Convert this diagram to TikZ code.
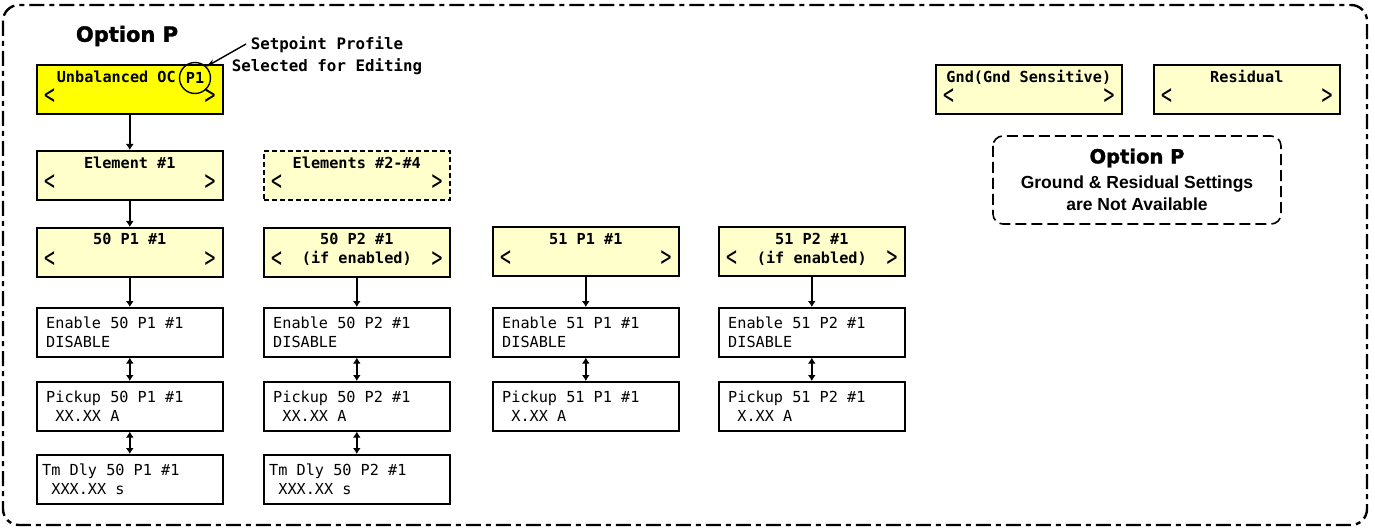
\documentclass[tikz,border=0pt]{standalone}
\usepackage{fontspec}
\usepackage{graphicx}
\setmainfont{Liberation Sans}
\newfontfamily\mono{DejaVu Sans Mono}
\newfontfamily\dvs{DejaVu Sans}[BoldFeatures={FakeBold=1.5}]
\usetikzlibrary{arrows.meta,calc}
\definecolor{ylw}{HTML}{FFFF00}
\definecolor{lylw}{HTML}{FFFFCC}
\newcommand{\brL}{\scalebox{0.95}[1.5]{<}}
\newcommand{\brR}{\scalebox{0.95}[1.5]{>}}
\tikzset{
  box/.style={draw, line width=1.6pt, rectangle, inner sep=0pt, minimum width=186pt, minimum height=49pt, anchor=north west},
  hdr/.style={font=\mono\bfseries\fontsize{15.2}{18}\selectfont, inner sep=0pt, text height=11pt, text depth=3pt},
  bodytxt/.style={font=\mono\fontsize{15.2}{19}\selectfont, inner sep=0pt, anchor=west, align=left},
  brk/.style={font=\mono\fontsize{19}{19}\selectfont, inner sep=0pt},
  conn/.style={line width=1.5pt, -{Latex[length=6pt,width=8pt]}},
  conn2/.style={line width=1.5pt, {Latex[length=6pt,width=8pt]}-{Latex[length=6pt,width=8pt]}},
  bigtitle/.style={font=\dvs\bfseries\fontsize{21}{24}\selectfont, inner sep=0pt},
}
\newcommand{\hdrbox}[5]{%
  \node[box, fill=#4] (#1) at (#2,#3) {};
  \node[brk, anchor=west] (#1-l) at ($(#1.north west)+(8,33)$) {\brL};
  \node[brk, anchor=east] (#1-r) at ($(#1.north east)+(-8,33)$) {\brR};
}
\newcommand{\valbox}[6]{%
  \node[box, fill=white] (#1) at (#2,#3) {};
  \node[bodytxt] (#1-t) at ($(#1.west)+(#6,0)$) {#4\\#5};
}
\begin{document}
\begin{tikzpicture}[x=1pt,y=-1pt]
\useasboundingbox (0,0) rectangle (1375,529);
% outer border
\draw[line width=2.4pt, rounded corners=16pt, dash pattern=on 15pt off 5pt on 5pt off 5pt] (3,5) rectangle (1367,525);

% title
\node[bigtitle] (title) at (127,36) {Option P};

% Unbalanced OC
\hdrbox{uoc}{36}{64}{ylw}{}
\node[hdr, anchor=east] (uoc-t) at (176,79) {Unbalanced OC};
\node[hdr, circle, draw, line width=1.4pt, minimum size=31pt, text height=, text depth=] (p1) at (195,78) {P1};
\node[font=\mono\bfseries\fontsize{15.8}{22}\selectfont, align=center, inner sep=0pt] (sp) at (327,56) {Setpoint Profile\\Selected for Editing};
\coordinate (spa) at (246,44);
\draw[line width=1.4pt, -{Stealth[length=9pt,width=6pt]}] (spa) -- (p1.north east);

% Element row
\hdrbox{el1}{36}{150}{lylw}{}
\node[hdr] (el1-t) at ($(el1.north)+(0,15)$) {Element \#1};
\node[box, fill=lylw, dash pattern=on 5pt off 3pt] (el2) at (263,150) {};
\node[hdr] (el2-t) at ($(el2.north)+(0,15)$) {Elements \#2-\#4};
\node[brk, anchor=west] (el2-l) at ($(el2.north west)+(8,33)$) {\brL};
\node[brk, anchor=east] (el2-r) at ($(el2.north east)+(-8,33)$) {\brR};

% header row
\hdrbox{h1}{36}{227}{lylw}{}
\node[hdr] (h1-t) at ($(h1.north)+(0,14)$) {50 P1 \#1};
\hdrbox{h2}{263}{227}{lylw}{}
\node[hdr] (h2-t) at ($(h2.north)+(0,14)$) {50 P2 \#1};
\node[hdr] (h2-s) at ($(h2.north)+(0,33)$) {(if enabled)};
\hdrbox{h3}{492}{226}{lylw}{}
\node[hdr] (h3-t) at ($(h3.north)+(0,14)$) {51 P1 \#1};
\hdrbox{h4}{718}{226}{lylw}{}
\node[hdr] (h4-t) at ($(h4.north)+(0,14)$) {51 P2 \#1};
\node[hdr] (h4-s) at ($(h4.north)+(0,33)$) {(if enabled)};

% value boxes
\valbox{e1}{36}{307}{Enable 50 P1 \#1}{DISABLE}{10}
\valbox{p1b}{36}{381}{Pickup 50 P1 \#1}{\ XX.XX A}{10}
\valbox{t1}{36}{454}{Tm Dly 50 P1 \#1}{\ XXX.XX s}{6}
\valbox{e2}{263}{307}{Enable 50 P2 \#1}{DISABLE}{10}
\valbox{p2b}{263}{381}{Pickup 50 P2 \#1}{\ XX.XX A}{10}
\valbox{t2}{263}{454}{Tm Dly 50 P2 \#1}{\ XXX.XX s}{6}
\valbox{e3}{492}{307}{Enable 51 P1 \#1}{DISABLE}{10}
\valbox{p3b}{492}{381}{Pickup 51 P1 \#1}{\ X.XX A}{10}
\valbox{e4}{718}{307}{Enable 51 P2 \#1}{DISABLE}{10}
\valbox{p4b}{718}{381}{Pickup 51 P2 \#1}{\ X.XX A}{10}

% connectors
\draw[conn] (uoc) -- (el1);
\draw[conn] (el1) -- (h1);
\draw[conn] (h1) -- (e1);
\draw[conn] (h2) -- (e2);
\draw[conn] (h3) -- (e3);
\draw[conn] (h4) -- (e4);
\draw[conn2] (e1) -- (p1b);
\draw[conn2] (p1b) -- (t1);
\draw[conn2] (e2) -- (p2b);
\draw[conn2] (p2b) -- (t2);
\draw[conn2] (e3) -- (p3b);
\draw[conn2] (e4) -- (p4b);

% right side
\hdrbox{gnd}{935}{64}{lylw}{}
\node[hdr] (gnd-t) at ($(gnd.north)+(0,15)$) {Gnd(Gnd Sensitive)};
\hdrbox{res}{1153}{64}{lylw}{}
\node[hdr] (res-t) at ($(res.north)+(0,15)$) {Residual};

\draw[line width=1.6pt, rounded corners=10pt, dash pattern=on 11pt off 5pt] (993,136) rectangle (1281,224);
\node[bigtitle, font=\dvs\bfseries\fontsize{19.5}{22}\selectfont] (nt) at (1137,158) {Option P};
\node[font=\bfseries\fontsize{17.5}{22}\selectfont, align=center, inner sep=0pt] (nb) at (1137,193) {Ground \& Residual Settings\\are Not Available};
\end{tikzpicture}
\end{document}
